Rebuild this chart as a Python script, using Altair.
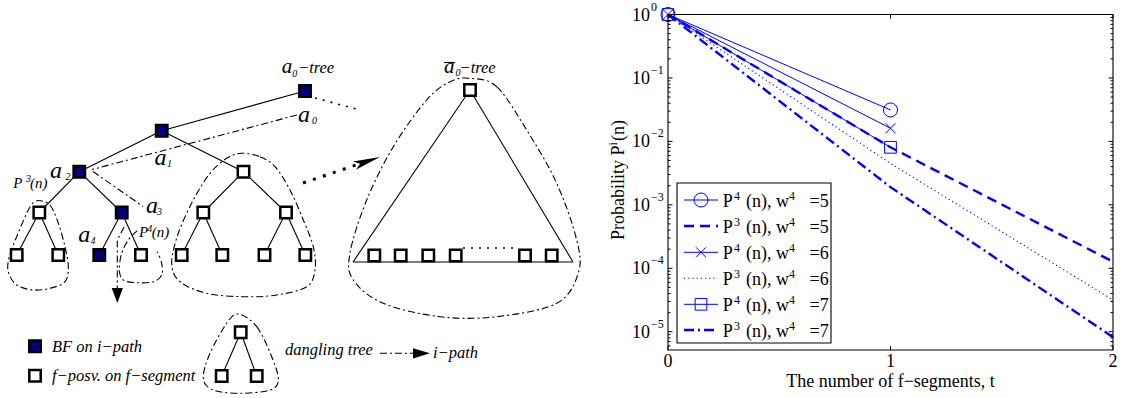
import altair as alt
import pandas as pd

W, H = 1122, 398
SERIF = "Liberation Serif"
BLUE = "#0000ff"
NAVY = "#000080"

# ---------------- probability curves (right panel) ----------------
T_P4 = [0, 1]
T_P3 = [0, 1, 2]
P4_W5 = [1.0, 0.0313]
P4_W6 = [1.0, 0.0161]
P4_W7 = [1.0, 0.00807]
P3_W5 = [1.0, 0.00807, 1.27e-4]
P3_W6 = [1.0, 0.0045, 3.16e-5]
P3_W7 = [1.0, 0.0019, 8.2e-6]

X_TICKS = [0, 1, 2]
X_TICK_LABELS = ["0", "1", "2"]
Y_DECADES = [1.0, 1e-1, 1e-2, 1e-3, 1e-4, 1e-5]
Y_EXPONENTS = ["0", "\u22121", "\u22122", "\u22123", "\u22124", "\u22125"]

T_DOMAIN = [0, 2]
P_DOMAIN = [5.15e-6, 1.0]
Y_MINOR = [m * d for d in [1e-1, 1e-2, 1e-3, 1e-4, 1e-5, 1e-6]
           for m in range(2, 10) if m * d >= P_DOMAIN[0]]

# legend rows
LEG_SUP = ["4", "3", "4", "3", "4", "3"]
LEG_VAL = ["=5", "=5", "=6", "=6", "=7", "=7"]
LEG_ROW_Y = [200, 226, 252.3, 278.3, 304.3, 330]

# ---------------- panel layout (pixels) ----------------
PLOT_LEFT, PLOT_RIGHT = 668, 1113
PLOT_TOP, PLOT_BOTTOM = 14.5, 350
LEG_BOX = (677, 183, 831, 343)
LEG_LINE_X = (684, 718)
LEG_MARK_X = 701

# ---------------- tree diagram (left side, pixels) ----------------
NODE_X = [305, 161.7, 79.3, 243.5, 39.3, 121.7, 203.3, 286,
          16.7, 58.3, 99.3, 141, 181.7, 222.3, 264.5, 305.3]
NODE_Y = [91, 130.7, 171.7, 171.7, 212.5, 212.5, 212.5, 212.5,
          255, 255, 255, 255, 255, 255, 255, 255]
NODE_ON_PATH = [1, 1, 1, 0, 0, 1, 0, 0, 0, 0, 1, 0, 0, 0, 0, 0]
TREE_EDGES = [(0, 1), (1, 2), (1, 3), (2, 4), (2, 5), (3, 6), (3, 7),
              (4, 8), (4, 9), (5, 10), (5, 11), (6, 12), (6, 13), (7, 14), (7, 15)]

TRI_APEX = (470, 90)
TRI_BASE = [(353, 262), (573, 262)]
TRI_LEAF_X = [374.3, 400.7, 428.3, 455.7, 525, 551.7]
TRI_LEAF_Y = 255.5

KEY_TREE_X = [240.7, 221.7, 256.7]
KEY_TREE_Y = [332.3, 376, 376]
KEY_SQ_X = [35, 35]
KEY_SQ_Y = [346.3, 375.7]
KEY_SQ_ON_PATH = [1, 0]

ENCL_TRIANGLE = [(470, 78.3), (496.7, 86.7), (526.7, 130), (556.7, 183.3), (576.7, 240),
                 (578.3, 273), (556.7, 303.3), (496.7, 316.7), (440, 316.7), (383.3, 303.3),
                 (353.3, 280), (350, 253), (366.7, 200), (393.3, 146.7), (426.7, 100), (450, 81.7)]
ENCL_P3 = [(40, 200.7), (50, 205), (58.3, 223), (65, 246.7), (68.3, 266.7), (65, 281.7),
           (50, 288.3), (33.3, 290), (16.7, 285), (8.3, 271.7), (9.3, 256.7), (16.7, 236.7),
           (26.7, 213.3), (33.3, 202.7)]
ENCL_RIGHT = [(241.7, 153.3), (260, 156.7), (275, 166.7), (290, 190), (303.3, 220),
              (313.3, 246.7), (315, 270), (306.7, 286.7), (276.7, 295), (243.3, 296.7),
              (206.7, 293.3), (180, 281.7), (171.7, 263.3), (178.3, 233.3), (193.3, 200),
              (210, 173.3), (226.7, 158.3)]
ENCL_KEY = [(238.3, 314), (256.7, 326.7), (271.7, 356.7), (278.3, 380), (270, 390),
            (240, 393.3), (213.3, 390), (203.3, 378.3), (210, 353.3), (226.7, 323.3)]
OPEN_P4 = [(137.3, 230.7), (128.3, 240), (121.7, 253.3), (119.3, 270), (123.3, 280),
           (136.7, 282.7), (153.3, 281.7), (161.7, 275), (161.7, 263.3), (157.3, 251.7)]

IPATHS = [[(297, 115), (92, 169.5)],
          [(93, 171.5), (143, 206.5)],
          [(124, 227), (117.3, 240), (117.3, 289)],
          [(380, 353.3), (413, 353.3)]]
DOTS_THIN = [[(315, 98), (360, 110)], [(463, 248), (519, 248)]]
DOTS_ARROW = [(303, 183), (356, 165)]

# ---------------- scales ----------------
SX = alt.Scale(domain=[0, W], range=[0, W], nice=False, zero=False)
SY = alt.Scale(domain=[0, H], range=[0, H], nice=False, zero=False)
ST = alt.Scale(domain=T_DOMAIN, range=[PLOT_LEFT, PLOT_RIGHT], nice=False, zero=False)
SP = alt.Scale(type="log", domain=P_DOMAIN, range=[PLOT_BOTTOM, PLOT_TOP], nice=False)


def px(field="x"):
    return alt.X(f"{field}:Q", scale=SX, axis=None)


def py(field="y"):
    return alt.Y(f"{field}:Q", scale=SY, axis=None)


def tx(field="t"):
    return alt.X(f"{field}:Q", scale=ST, axis=None)


def py_log(field="p"):
    return alt.Y(f"{field}:Q", scale=SP, axis=None)


def polylines(paths):
    rows = []
    for k, path in enumerate(paths):
        for i, (x, y) in enumerate(path):
            rows.append({"id": k, "i": i, "x": x, "y": y})
    return pd.DataFrame(rows)


def text_layer(rows, size, italic=False, align="left", angle=0, baseline="alphabetic",
               color="black"):
    df = pd.DataFrame(rows, columns=["x", "y", "label"])
    return alt.Chart(df).mark_text(
        font=SERIF, fontSize=size, fontStyle="italic" if italic else "normal",
        align=align, baseline=baseline, angle=angle, color=color
    ).encode(x=px(), y=py(), text="label:N")


layers = []
DASHDOT = [7, 3, 2, 3]

# ---- diagram: solid edges ----
seg = []
for a, b in TREE_EDGES:
    seg.append((NODE_X[a], NODE_Y[a], NODE_X[b], NODE_Y[b]))
seg.append((TRI_APEX[0], TRI_APEX[1], TRI_BASE[0][0], TRI_BASE[0][1]))
seg.append((TRI_APEX[0], TRI_APEX[1], TRI_BASE[1][0], TRI_BASE[1][1]))
seg.append((TRI_BASE[0][0], TRI_BASE[0][1], TRI_BASE[1][0], TRI_BASE[1][1]))
seg.append((KEY_TREE_X[0], KEY_TREE_Y[0], KEY_TREE_X[1], KEY_TREE_Y[1]))
seg.append((KEY_TREE_X[0], KEY_TREE_Y[0], KEY_TREE_X[2], KEY_TREE_Y[2]))
seg.append((444, 62.5, 455, 62.5))  # bar over the a of the a0-bar tree
seg_df = pd.DataFrame(seg, columns=["x", "y", "x2", "y2"])
layers.append(alt.Chart(seg_df).mark_rule(color="black", strokeWidth=1.1).encode(
    x=px(), y=py(), x2="x2:Q", y2="y2:Q"))

# ---- diagram: enclosing dash-dot curves ----
layers.append(alt.Chart(polylines([ENCL_TRIANGLE, ENCL_P3, ENCL_RIGHT, ENCL_KEY])).mark_line(
    interpolate="cardinal-closed", color="black", strokeWidth=1.1, strokeDash=DASHDOT
).encode(x=px(), y=py(), detail="id:N", order="i:Q"))
layers.append(alt.Chart(polylines([OPEN_P4])).mark_line(
    interpolate="cardinal", color="black", strokeWidth=1.1, strokeDash=DASHDOT
).encode(x=px(), y=py(), detail="id:N", order="i:Q"))

# ---- diagram: i-path dash-dot lines ----
layers.append(alt.Chart(polylines(IPATHS)).mark_line(
    color="black", strokeWidth=1.1, strokeDash=DASHDOT
).encode(x=px(), y=py(), detail="id:N", order="i:Q"))

# ---- diagram: dotted lines ----
layers.append(alt.Chart(polylines(DOTS_THIN)).mark_line(
    color="black", strokeWidth=1.6, strokeDash=[2, 6]
).encode(x=px(), y=py(), detail="id:N", order="i:Q"))
layers.append(alt.Chart(polylines([DOTS_ARROW])).mark_line(
    color="black", strokeWidth=3, strokeDash=[3, 7.5]
).encode(x=px(), y=py(), detail="id:N", order="i:Q"))

# ---- diagram: arrowheads ----
layers.append(alt.Chart(pd.DataFrame({"x": [367.2], "y": [161.3]})).mark_point(
    shape="M1,0L-1,-0.33L-0.55,0L-1,0.33Z", size=729, angle=341.3,
    filled=True, color="black", opacity=1
).encode(x=px(), y=py()))
layers.append(alt.Chart(pd.DataFrame({"x": [117.3], "y": [295.5]})).mark_point(
    shape="M-0.75,-1L0.75,-1L0,1Z", size=225, filled=True, color="black", opacity=1
).encode(x=px(), y=py()))
layers.append(alt.Chart(pd.DataFrame({"x": [421.5], "y": [353.3]})).mark_point(
    shape="M1,0L-1,-0.6L-1,0.6Z", size=289, filled=True, color="black", opacity=1
).encode(x=px(), y=py()))

# ---- diagram: nodes ----
nodes = pd.DataFrame({
    "x": NODE_X + TRI_LEAF_X + KEY_TREE_X + KEY_SQ_X + [TRI_APEX[0]],
    "y": NODE_Y + [TRI_LEAF_Y] * len(TRI_LEAF_X) + KEY_TREE_Y + KEY_SQ_Y + [TRI_APEX[1]],
    "on": NODE_ON_PATH + [0] * len(TRI_LEAF_X) + [0] * 3 + KEY_SQ_ON_PATH + [0],
})
nodes["fill"] = [NAVY if v else "white" for v in nodes["on"]]
layers.append(alt.Chart(nodes).mark_point(
    shape="square", size=130, filled=True, stroke="black", strokeWidth=2.5, opacity=1
).encode(x=px(), y=py(), fill=alt.Fill("fill:N", scale=None)))

# ---- diagram: labels ----
layers.append(text_layer([
    (298, 121.7, "a"), (154.5, 165, "a"), (50, 178, "a"), (146, 213, "a"), (78.3, 241.7, "a"),
], 24, italic=True))
layers.append(text_layer([(281.7, 73.3, "a"), (444, 73.3, "a")], 21, italic=True))
layers.append(text_layer([
    (312, 124, "0"), (167, 167, "1"), (65.5, 180, "2"), (157, 215, "3"), (90.5, 243.5, "4"),
    (292.3, 76.5, "0"), (455.5, 75.5, "0"),
], 10, italic=True))
layers.append(text_layer([
    (298, 73.3, "\u2212tree"), (459.5, 73.3, "\u2212tree"),
    (52, 351.7, "BF  on i\u2212path"), (52, 380.5, "f\u2212posv. on f\u2212segment"),
    (285, 355, "dangling tree"), (433, 357.5, "i\u2212path"),
], 16.5, italic=True))
layers.append(text_layer([
    (13.3, 188, "P"), (30, 188, "(n)"), (139, 236.7, "P"), (151.7, 236.7, "(n)"),
], 15, italic=True))
layers.append(text_layer([(26, 182, "3"), (147.3, 231.5, "4")], 10, italic=True))

# ---------------- right panel ----------------
def series(name, ts, ps):
    return pd.DataFrame({"series": name, "t": ts, "p": ps})


solid = pd.concat([series("P4 w5", T_P4, P4_W5), series("P4 w6", T_P4, P4_W6),
                   series("P4 w7", T_P4, P4_W7)])
layers.append(alt.Chart(solid).mark_line(color=BLUE, strokeWidth=1).encode(
    x=tx(), y=py_log(), detail="series:N", order="t:Q"))
for ps, width, dash in [(P3_W5, 2.4, [10, 6]), (P3_W6, 1.1, [1.2, 3]),
                        (P3_W7, 2.4, [10, 4, 2, 4])]:
    layers.append(alt.Chart(series("P3", T_P3, ps)).mark_line(
        color=BLUE, strokeWidth=width, strokeDash=dash
    ).encode(x=tx(), y=py_log(), order="t:Q"))

MARKERS = {
    "circle": ("circle", 196),
    "cross": ("M-1,-1L1,1M-1,1L1,-1", 100),
    "square": ("square", 137),
}
for ps, key in [(P4_W5, "circle"), (P4_W6, "cross"), (P4_W7, "square")]:
    shape, size = MARKERS[key]
    layers.append(alt.Chart(series("m", T_P4, ps)).mark_point(
        shape=shape, size=size, filled=False, color=BLUE, strokeWidth=1, opacity=1
    ).encode(x=tx(), y=py_log()))

# frame
frame = pd.DataFrame({"t": [T_DOMAIN[0]], "t2": [T_DOMAIN[1]],
                      "p": [P_DOMAIN[0]], "p2": [P_DOMAIN[1]]})
layers.append(alt.Chart(frame).mark_rect(
    fill="transparent", stroke="black", strokeWidth=1.1
).encode(x=tx(), x2="t2:Q", y=py_log(), y2="p2:Q"))

# ticks (pointing inward, on all four sides)
xt = pd.DataFrame({"t": X_TICKS})
xt["lo"] = P_DOMAIN[0]
xt["hi"] = P_DOMAIN[1]
for field, off in [("lo", -2), ("hi", 2)]:
    layers.append(alt.Chart(xt).mark_tick(
        orient="vertical", size=4, thickness=1, color="black", opacity=1, yOffset=off
    ).encode(x=tx(), y=py_log(field)))
for vals, ln in [(Y_DECADES, 4.5), (Y_MINOR, 2.5)]:
    yt = pd.DataFrame({"p": vals})
    yt["l"] = T_DOMAIN[0]
    yt["r"] = T_DOMAIN[1]
    for field, off in [("l", ln / 2), ("r", -ln / 2)]:
        layers.append(alt.Chart(yt).mark_tick(
            orient="horizontal", size=ln, thickness=1, color="black", opacity=1, xOffset=off
        ).encode(x=tx(field), y=py_log()))

# tick labels
xl = pd.DataFrame({"t": X_TICKS, "label": X_TICK_LABELS})
xl["p"] = P_DOMAIN[0]
layers.append(alt.Chart(xl).mark_text(
    font=SERIF, fontSize=18, align="center", baseline="alphabetic", dy=17, color="black"
).encode(x=tx(), y=py_log(), text="label:N"))
yl = pd.DataFrame({"p": Y_DECADES, "exp": Y_EXPONENTS})
yl["t"] = T_DOMAIN[0]
yl["base"] = "10"
layers.append(alt.Chart(yl).mark_text(
    font=SERIF, fontSize=18, align="right", baseline="alphabetic", dx=-18, dy=6, color="black"
).encode(x=tx(), y=py_log(), text="base:N"))
layers.append(alt.Chart(yl).mark_text(
    font=SERIF, fontSize=12, align="left", baseline="alphabetic", dx=-17, dy=-4, color="black"
).encode(x=tx(), y=py_log(), text="exp:N"))

# axis titles
xtitle = pd.DataFrame({"t": [1], "p": [P_DOMAIN[0]], "label": ["The number of f\u2212segments, t"]})
layers.append(alt.Chart(xtitle).mark_text(
    font=SERIF, fontSize=18, align="center", baseline="alphabetic", dy=37, color="black"
).encode(x=tx(), y=py_log(), text="label:N"))
layers.append(text_layer([(624, 240, "Probability P"), (624, 141, "(n)")], 18, angle=270))
layers.append(text_layer([(617, 145.5, "i")], 12, angle=270))

# legend box
box = pd.DataFrame({"x": [LEG_BOX[0]], "y": [LEG_BOX[1]], "x2": [LEG_BOX[2]], "y2": [LEG_BOX[3]]})
layers.append(alt.Chart(box).mark_rect(fill="white", stroke="black", strokeWidth=1.1).encode(
    x=px(), y=py(), x2="x2:Q", y2="y2:Q"))

leg_styles = [(1, None), (2.4, [10, 6]), (1, None), (1.1, [1.2, 3]), (1, None), (2.4, [10, 4, 2, 4])]
for row_y, (width, dash) in zip(LEG_ROW_Y, leg_styles):
    d = pd.DataFrame({"x": [LEG_LINE_X[0]], "x2": [LEG_LINE_X[1]], "y": [row_y]})
    kw = dict(color=BLUE, strokeWidth=width)
    if dash:
        kw["strokeDash"] = dash
    layers.append(alt.Chart(d).mark_rule(**kw).encode(x=px(), x2="x2:Q", y=py()))
for row_y, key in [(LEG_ROW_Y[0], "circle"), (LEG_ROW_Y[2], "cross"), (LEG_ROW_Y[4], "square")]:
    shape, size = MARKERS[key]
    layers.append(alt.Chart(pd.DataFrame({"x": [LEG_MARK_X], "y": [row_y]})).mark_point(
        shape=shape, size=size, filled=False, color=BLUE, strokeWidth=1, opacity=1
    ).encode(x=px(), y=py()))

big_rows, sup_rows = [], []
for row_y, sup, val in zip(LEG_ROW_Y, LEG_SUP, LEG_VAL):
    big_rows += [(722.7, row_y + 6.5, "P"), (746, row_y + 6.5, "(n), w"), (809.5, row_y + 6.5, val)]
    sup_rows += [(734, row_y - 0.5, sup), (789, row_y - 0.5, "4")]
layers.append(text_layer(big_rows, 18))
layers.append(text_layer(sup_rows, 12))

chart = alt.layer(*layers).resolve_scale(x="independent", y="independent").properties(
    width=W, height=H, padding=0, autosize=alt.AutoSizeParams(type="none"),
    background="white",
).configure_view(stroke=None)

chart.save("out.html", embed_options={"renderer": "svg", "actions": False})
